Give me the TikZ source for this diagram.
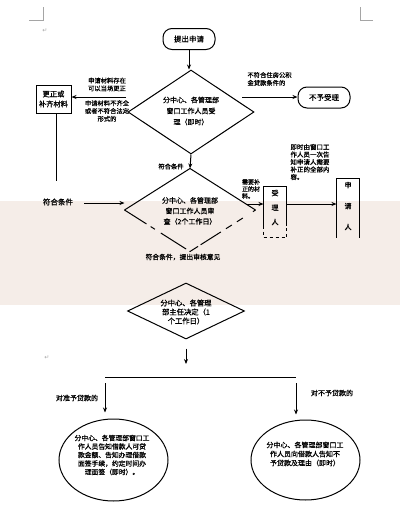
\documentclass[tikz,border=0pt]{standalone}
\usepackage{fontspec}
\setmainfont{Noto Sans CJK SC}[FakeBold=0.8]
\newfontfamily\symfont{DejaVu Sans}
\usetikzlibrary{shapes.geometric,arrows.meta,calc}
\definecolor{band}{RGB}{245,237,232}
\definecolor{markgray}{RGB}{165,165,165}
\begin{document}
\begin{tikzpicture}[x=1pt,y=-1pt,
  line width=1pt,
  arr/.style={-{Stealth[length=5pt,width=4pt]}},
  txt/.style={font=\fontsize{7}{10.5}\selectfont, align=center, inner sep=0pt},
  lbl/.style={font=\fontsize{6.3}{7.8}\selectfont, align=center, inner sep=0pt},
  rbox/.style={draw, rounded corners=9pt, minimum width=52pt, minimum height=21pt, inner sep=0pt, font=\fontsize{7.5}{9}\selectfont},
  dia/.style={diamond, draw, inner sep=0pt},
  dianone/.style={diamond, inner sep=0pt},
  ell/.style={ellipse, draw, inner sep=0pt},
  pmark/.style={font=\symfont\fontsize{6}{6}\selectfont, text=markgray, inner sep=0pt},
]
\useasboundingbox (0,0) rectangle (400,507);
\fill[band] (0,201) rectangle (400,305);

% page corner marks
\draw[markgray, line width=0.5pt] (29,20) -- (43,20) -- (43,7);
\draw[markgray, line width=0.5pt] (373,20) -- (360,20) -- (360,7);
\node[pmark] (pm1) at (45,31) {↵};
\node[pmark] (pm2) at (47,358) {↵};

% start
\node[rbox] (apply) at (189,39) {提出申请};

% diamond 1
\node[dia, minimum width=126pt, minimum height=84pt] (d1) at (191,112) {};
\node[txt, font=\fontsize{7}{11}\selectfont] (d1t) at (191,111) {分中心、各管理部\\窗口工作人员受\\理（即时）};
\draw[arr] (apply.south) -- (apply.south |- d1.north);

% left branch
\node[draw, minimum width=35pt, minimum height=28pt, inner sep=0pt, align=center, font=\fontsize{7.3}{10}\selectfont] (fix) at (53.5,99) {更正或\\补齐材料};
\coordinate (la) at (126,97);
\draw[arr] (la) -- (la -| fix.east);
\node[lbl] (l1) at (107,84.5) {申请材料存在\\可以当场更正};
\node[lbl] (l2) at (107,111) {申请材料不齐全\\或者不符合法定\\形式的};
\coordinate (fixend) at (56,181);
\draw (fixend |- fix.south) -- (fixend);

% right branch: reject
\node[rbox] (rej) at (324,97.5) {不予受理};
\coordinate (ra) at (242,97);
\draw[arr] (ra) -- (ra -| rej.west);
\node[lbl, align=left, anchor=west] (rejl) at (247,79) {不符合住房公积\\金贷款条件的};

% diamond 2
\node[dianone, minimum width=130pt, minimum height=82pt] (d2) at (190,210) {};
\draw (d2.west) -- (d2.north) -- (d2.east);
\draw[dash pattern=on 26pt off 5pt on 5pt off 7pt on 30pt off 4pt] (d2.west) -- (d2.south);
\draw[dash pattern=on 3pt off 12pt on 7pt off 6pt on 7pt off 6pt on 24pt] (d2.east) -- (d2.south);
\node[txt] (d2t) at (190,211) {分中心、各管理部\\窗口工作人员审\\查（2个工作日）};
\draw[arr] (d1.south) -- (d2.north);
\node[lbl] (okc) at (171,166.5) {符合条件};

\node[txt, font=\fontsize{7.5}{9}\selectfont] (ok0) at (58,202) {符合条件};
\coordinate (ok0e) at (84,203);
\draw[arr] (ok0e) -- (ok0e -| d2.west);

% acceptor / applicant
\node[lbl, align=left, font=\fontsize{6}{7}\selectfont] (need) at (251,189) {需要补\\正的材\\料。};
\node[minimum width=22pt, minimum height=50pt, inner sep=0pt] (acc) at (275,212) {};
\draw ($(acc.south west)+(0,-12)$) -- (acc.north west) -- (acc.north east) -- ($(acc.south east)+(0,-12)$);
\draw[dash pattern=on 3pt off 3pt] ($(acc.south west)+(0,-12)$) -- (acc.south west) -- (acc.south east) -- ($(acc.south east)+(0,-12)$);
\node[txt, font=\fontsize{7}{14.5}\selectfont] (acct) at (275,207.5) {受\\理\\人};
\coordinate (ne) at (246,204);
\draw[arr] (ne) -- (ne -| acc.west);

\node[minimum width=22pt, minimum height=58pt, inner sep=0pt] (req) at (348,208) {};
\draw (req.south west) -- (req.north west) -- (req.north east) -- (req.south east);
\node[txt, font=\fontsize{7}{21}\selectfont] (reqt) at (348,206) {申\\请\\人};
\draw[arr] (ne -| acc.east) -- (ne -| req.west);
\node[lbl, align=left, anchor=west, font=\fontsize{6.5}{7.5}\selectfont] (note) at (290,162) {即时由窗口工\\作人员一次告\\知申请人需要\\补正的全部内\\容。};

\node[lbl, font=\fontsize{6.8}{8}\selectfont] (okr) at (183,257) {符合条件，提出审核意见};

% diamond 3
\node[dia, minimum width=117pt, minimum height=56pt] (d3) at (186,311) {};
\node[txt, font=\fontsize{7.3}{9}\selectfont] (d3t) at (186,312) {分中心、各管理\\部主任决定（1\\个工作日）};

% split
\coordinate (spL) at (105,377);
\coordinate (spR) at (296,377);
\draw[arr, shorten <=9pt, shorten >=13pt] (d3.south) -- (d3.south |- spL);
\draw (spL) -- (spR);

% final ellipses
\node[ell, minimum width=109pt, minimum height=82pt] (eL) at (113.5,460) {};
\node[txt, font=\fontsize{6.8}{8.5}\selectfont] (eLt) at (112,455) {分中心、各管理部窗口工\\作人员告知借款人可贷\\款金额、告知办理借款\\面签手续，约定时间办\\理面签（即时）。};
\node[ell, minimum width=109pt, minimum height=80pt] (eR) at (305.5,460) {};
\node[txt, font=\fontsize{7}{9}\selectfont] (eRt) at (305,454) {分中心、各管理部窗口工\\作人员向借款人告知不\\予贷款及理由（即时）};

\draw[arr, shorten <=6pt, shorten >=6pt] (spL) -- (spL |- eL.north);
\draw[arr, shorten <=6pt, shorten >=5pt] (spR) -- (spR |- eR.north);
\node[lbl, font=\fontsize{7}{8}\selectfont] (yes) at (77,398) {对准予贷款的};
\node[lbl, font=\fontsize{7}{8}\selectfont] (no) at (332,393) {对不予贷款的};
\end{tikzpicture}
\end{document}
